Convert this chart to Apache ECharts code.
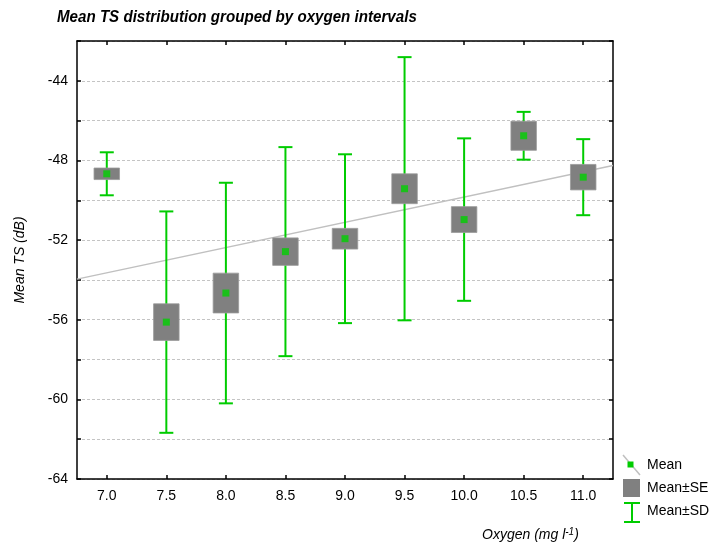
<!DOCTYPE html>
<html>
<head>
<meta charset="utf-8">
<script src="https://cdn.jsdelivr.net/npm/echarts@6/dist/echarts.min.js"></script>
<style>
  html, body { margin: 0; padding: 0; background: #fff; }
  #chart { width: 724px; height: 550px; }
</style>
</head>
<body>
<div id="chart"></div>
<script>
// Oxygen intervals (mg l-1) and TS statistics per interval (dB)
const oxygen = ['7.0', '7.5', '8.0', '8.5', '9.0', '9.5', '10.0', '10.5', '11.0'];
const meanTS = [-48.67, -56.12, -54.66, -52.58, -51.93, -49.42, -50.97, -46.76, -48.84];
const seTS   = [0.29, 0.92, 1.00, 0.69, 0.52, 0.75, 0.65, 0.73, 0.64];
const sdTS   = [1.08, 5.56, 5.54, 5.25, 4.24, 6.61, 4.08, 1.20, 1.91];

// Linear fit of the mean TS against oxygen, end points across the plot
const fitX = [6.75, 11.25];
const fitY = [-53.96, -48.25];

// Y axis ticks
const yMin = -64, yMax = -42, yStep = 2, yLabelStep = 4;

const GREEN = '#00cc00';
const BOX = '#808080';
const FIT = '#c0c0c0';
const FONT = '"Liberation Sans", Arial, sans-serif';

const sdData = oxygen.map((o, i) => [i, meanTS[i] - sdTS[i], meanTS[i] + sdTS[i]]);
const seData = oxygen.map((o, i) => [i, meanTS[i] - seTS[i], meanTS[i] + seTS[i]]);
const meanData = oxygen.map((o, i) => [i, meanTS[i]]);
const fitData = fitX.map((x, i) => [x, fitY[i]]);

const chart = echarts.init(document.getElementById('chart'), null, { renderer: 'canvas' });

const frameLine = { show: true, lineStyle: { color: '#000', width: 1.5 } };
const innerTick = { show: true, inside: true, length: 4, lineStyle: { color: '#000', width: 1.5 } };

chart.setOption({
  animation: false,
  backgroundColor: '#fff',
  grid: { left: 77, right: 111, top: 41, bottom: 71, containLabel: false },
  xAxis: [
    {
      type: 'category',
      data: oxygen,
      position: 'bottom',
      boundaryGap: true,
      axisLine: frameLine,
      axisTick: Object.assign({ alignWithLabel: true }, innerTick),
      axisLabel: { color: '#000', fontSize: 14, fontFamily: FONT, margin: 10 },
      splitLine: { show: false }
    },
    {
      type: 'category',
      data: oxygen,
      position: 'top',
      boundaryGap: true,
      axisLine: frameLine,
      axisTick: Object.assign({ alignWithLabel: true }, innerTick),
      axisLabel: { show: false },
      splitLine: { show: false }
    },
    {
      type: 'value',
      min: fitX[0],
      max: fitX[1],
      show: false
    }
  ],
  yAxis: [
    {
      type: 'value',
      min: yMin,
      max: yMax,
      interval: yStep,
      position: 'left',
      name: 'Mean TS (dB)',
      nameLocation: 'middle',
      nameGap: 50,
      nameTextStyle: { color: '#000', fontSize: 14, fontFamily: FONT, fontStyle: 'italic' },
      axisLine: frameLine,
      axisTick: innerTick,
      axisLabel: {
        color: '#000', fontSize: 14, fontFamily: FONT, margin: 9,
        formatter: v => (Math.round(v) % yLabelStep === 0 ? String(v) : '')
      },
      splitLine: { show: true, lineStyle: { color: '#c4c4c4', type: [3, 2], width: 1 } }
    },
    {
      type: 'value',
      min: yMin,
      max: yMax,
      interval: yStep,
      position: 'right',
      axisLine: frameLine,
      axisTick: innerTick,
      axisLabel: { show: false },
      splitLine: { show: false }
    }
  ],
  series: [
    {
      // fitted trend line
      type: 'line',
      xAxisIndex: 2,
      yAxisIndex: 0,
      data: fitData,
      symbol: 'none',
      lineStyle: { color: FIT, width: 1.5 },
      z: 2,
      silent: true
    },
    {
      // mean ± SD whiskers
      type: 'custom',
      xAxisIndex: 0,
      yAxisIndex: 0,
      data: sdData,
      z: 3,
      renderItem: function (params, api) {
        const i = api.value(0);
        const lo = api.coord([i, api.value(1)]);
        const hi = api.coord([i, api.value(2)]);
        const cap = 7;
        const style = { stroke: GREEN, lineWidth: 2, fill: null };
        return {
          type: 'group',
          children: [
            { type: 'line', shape: { x1: hi[0], y1: hi[1], x2: lo[0], y2: lo[1] }, style: style },
            { type: 'line', shape: { x1: hi[0] - cap, y1: hi[1], x2: hi[0] + cap, y2: hi[1] }, style: style },
            { type: 'line', shape: { x1: lo[0] - cap, y1: lo[1], x2: lo[0] + cap, y2: lo[1] }, style: style }
          ]
        };
      }
    },
    {
      // mean ± SE boxes
      type: 'custom',
      xAxisIndex: 0,
      yAxisIndex: 0,
      data: seData,
      z: 4,
      renderItem: function (params, api) {
        const i = api.value(0);
        const lo = api.coord([i, api.value(1)]);
        const hi = api.coord([i, api.value(2)]);
        const w = 25.5;
        return {
          type: 'rect',
          shape: { x: hi[0] - w / 2, y: hi[1], width: w, height: lo[1] - hi[1] },
          style: { fill: BOX, stroke: '#9a9a9a', lineWidth: 0.8 }
        };
      }
    },
    {
      // mean points
      type: 'scatter',
      xAxisIndex: 0,
      yAxisIndex: 0,
      data: meanData,
      symbol: 'rect',
      symbolSize: 7,
      itemStyle: { color: '#00d000' },
      z: 5
    }
  ],
  graphic: [
    {
      // chart title, condensed bold italic
      type: 'text',
      x: 57,
      y: 17,
      scaleX: 0.89,
      style: {
        text: 'Mean TS distribution grouped by oxygen intervals',
        fontSize: 17,
        fontWeight: 'bold',
        fontStyle: 'italic',
        fontFamily: FONT,
        fill: '#000',
        verticalAlign: 'middle'
      }
    },
    {
      type: 'text',
      left: 482,
      top: 527,
      style: {
        text: '{a|Oxygen (mg l}{s|-1}{a|)}',
        rich: {
          a: { fontSize: 14, fontFamily: FONT, fontStyle: 'italic', fill: '#000' },
          s: { fontSize: 10, fontFamily: FONT, fontStyle: 'italic', fill: '#000', verticalAlign: 'top', padding: [0, 0, 6, 0] }
        }
      }
    },
    // legend
    { type: 'line', shape: { x1: 623, y1: 455, x2: 640, y2: 475 }, style: { stroke: FIT, lineWidth: 1.5 } },
    { type: 'rect', shape: { x: 627.5, y: 461.5, width: 6, height: 6 }, style: { fill: GREEN } },
    { type: 'text', x: 647, y: 465, style: { text: 'Mean', fontSize: 14, fontFamily: FONT, fill: '#000', verticalAlign: 'middle' } },
    { type: 'rect', shape: { x: 623, y: 479, width: 17, height: 18 }, style: { fill: BOX } },
    { type: 'text', x: 647, y: 488, style: { text: 'Mean±SE', fontSize: 14, fontFamily: FONT, fill: '#000', verticalAlign: 'middle' } },
    { type: 'line', shape: { x1: 624, y1: 503, x2: 640, y2: 503 }, style: { stroke: GREEN, lineWidth: 2 } },
    { type: 'line', shape: { x1: 632, y1: 503, x2: 632, y2: 522 }, style: { stroke: GREEN, lineWidth: 2 } },
    { type: 'line', shape: { x1: 624, y1: 522, x2: 640, y2: 522 }, style: { stroke: GREEN, lineWidth: 2 } },
    { type: 'text', x: 647, y: 511, style: { text: 'Mean±SD', fontSize: 14, fontFamily: FONT, fill: '#000', verticalAlign: 'middle' } }
  ]
});
</script>
</body>
</html>
